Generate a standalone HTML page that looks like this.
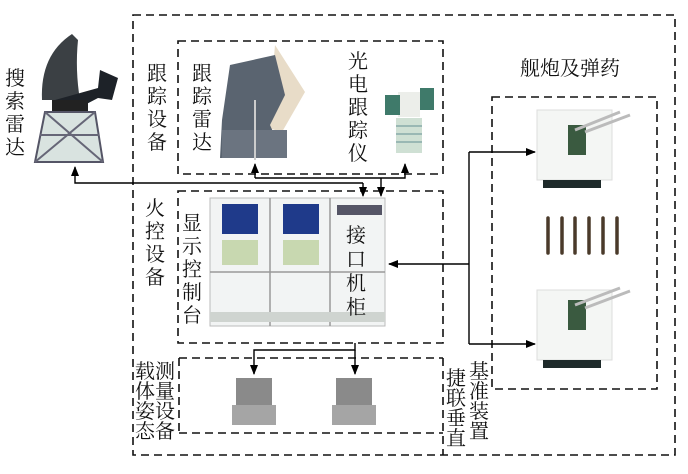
<!DOCTYPE html>
<html><head><meta charset="utf-8"><style>
html,body{margin:0;padding:0;background:#fff}
svg{display:block}
text{font-family:"Liberation Serif","Noto Serif CJK SC",serif;font-size:20px;fill:#111}
</style></head><body>
<svg width="688" height="474" viewBox="0 0 688 474" xmlns="http://www.w3.org/2000/svg">
<defs>
<marker id="a" markerWidth="10" markerHeight="8" refX="9" refY="4" orient="auto" markerUnits="userSpaceOnUse"><path d="M0,0 L10,4 L0,8 Z" fill="#000"/></marker>
</defs>
<g fill="none" stroke="#111" stroke-width="1.6" stroke-dasharray="8,5">
<rect x="133" y="15" width="542" height="440"/>
<rect x="178" y="41" width="265" height="133"/>
<rect x="178" y="191" width="265" height="152"/>
<path d="M179,358 H443 M179,433 H443 M179,358 V433 M443,358 V455"/>
<rect x="492" y="97" width="165" height="292"/>
</g>
<!-- search radar -->
<g>
<path d="M42,100 Q40,55 72,34 L78,40 Q75,70 80,100 Z" fill="#262b30" opacity="0.9"/>
<path d="M55,100 L98,88 L100,70 L118,78 L112,100 L98,98 L75,110 Z" fill="#1d2228"/>
<rect x="52" y="100" width="36" height="12" fill="#222"/>
<path d="M45,112 H95 L103,162 H35 Z" fill="#d9e3e0" stroke="#556" stroke-width="2"/>
<path d="M45,112 L103,162 M95,112 L35,162 M40,135 H99" stroke="#667" stroke-width="2"/>
</g>
<!-- tracking radar -->
<g>
<path d="M275,45 L305,92 L282,132 L268,128 Z" fill="#e8dcc8"/>
<path d="M230,65 L275,55 L285,95 L270,125 L285,158 H220 L222,120 Z" fill="#5a6470"/>
<rect x="222" y="130" width="65" height="28" fill="#6b7480"/>
<line x1="255" y1="100" x2="255" y2="160" stroke="#ccc" stroke-width="2"/>
</g>
<!-- EO tracker -->
<g>
<rect x="398" y="92" width="22" height="25" fill="#eceeea"/>
<rect x="385" y="95" width="15" height="20" fill="#3f7a6a"/>
<rect x="420" y="88" width="14" height="22" fill="#3f7a6a"/>
<rect x="396" y="118" width="26" height="35" fill="#cfe0d4"/>
<path d="M396,126 H422 M396,134 H422 M396,142 H422" stroke="#8aa" stroke-width="1.5"/>
</g>
<!-- console -->
<g>
<rect x="210" y="198" width="175" height="128" fill="#f2f4f4" stroke="#bbb"/>
<rect x="222" y="204" width="36" height="30" fill="#1f3a8a"/>
<rect x="283" y="204" width="36" height="30" fill="#1f3a8a"/>
<rect x="222" y="240" width="36" height="25" fill="#c8d8b0"/>
<rect x="283" y="240" width="36" height="25" fill="#c8d8b0"/>
<rect x="337" y="205" width="45" height="10" fill="#556"/>
<path d="M270,198 V326 M330,198 V326 M210,272 H385" stroke="#999" stroke-width="1.5"/>
<rect x="210" y="312" width="175" height="10" fill="#cfd4d0"/>
</g>
<!-- gyro units -->
<g>
<rect x="236" y="378" width="36" height="30" fill="#8a8a8a"/>
<rect x="232" y="405" width="44" height="20" fill="#a5a5a5"/>
<rect x="336" y="378" width="36" height="30" fill="#8a8a8a"/>
<rect x="332" y="405" width="44" height="20" fill="#a5a5a5"/>
</g>
<!-- guns -->
<g>
<rect x="537" y="110" width="75" height="70" fill="#f4f6f4" stroke="#ddd"/>
<rect x="568" y="125" width="18" height="30" fill="#3a5a40"/>
<path d="M575,130 L620,112 M585,132 L630,115" stroke="#bbb" stroke-width="3"/>
<rect x="543" y="180" width="58" height="8" fill="#1e2a2a"/>
<rect x="537" y="290" width="75" height="70" fill="#f4f6f4" stroke="#ddd"/>
<rect x="568" y="300" width="18" height="30" fill="#3a5a40"/>
<path d="M575,305 L620,288 M585,308 L630,291" stroke="#bbb" stroke-width="3"/>
<rect x="543" y="360" width="58" height="8" fill="#1e2a2a"/>
</g>
<g stroke="#4a3a2a" stroke-width="3.5" stroke-linecap="round">
<path d="M548,218 V253 M562,218 V253 M575,218 V253 M589,218 V253 M603,218 V253 M617,218 V253"/>
</g>
<!-- connectors -->
<g fill="none" stroke="#000" stroke-width="1.4">
<path d="M363,183 H75 V167" marker-end="url(#a)"/>
<path d="M363,183 V196" marker-end="url(#a)"/>
<path d="M255,178 V164" marker-end="url(#a)"/>
<path d="M255,178 H405 V164" marker-end="url(#a)"/>
<path d="M381,178 V196" marker-end="url(#a)"/>
<path d="M469,264 H389" marker-end="url(#a)"/>
<path d="M469,152 V344"/>
<path d="M469,152 H535" marker-end="url(#a)"/>
<path d="M469,344 H535" marker-end="url(#a)"/>
<path d="M355,343 V350 H254 V374" marker-end="url(#a)"/>
<path d="M355,350 V374" marker-end="url(#a)"/>
</g>
<!-- labels -->
<g>
<text x="5" y="85">搜</text><text x="5" y="108">索</text><text x="5" y="131">雷</text><text x="5" y="154">达</text>
<text x="147" y="80">跟</text><text x="147" y="103">踪</text><text x="147" y="126">设</text><text x="147" y="149">备</text>
<text x="192" y="80">跟</text><text x="192" y="103">踪</text><text x="192" y="126">雷</text><text x="192" y="149">达</text>
<text x="348" y="68">光</text><text x="348" y="91">电</text><text x="348" y="114">跟</text><text x="348" y="137">踪</text><text x="348" y="160">仪</text>
<text x="145" y="215">火</text><text x="145" y="238">控</text><text x="145" y="261">设</text><text x="145" y="284">备</text>
<text x="182" y="230">显</text><text x="182" y="253">示</text><text x="182" y="276">控</text><text x="182" y="299">制</text><text x="182" y="322">台</text>
<text x="346" y="242">接</text><text x="346" y="266">口</text><text x="346" y="290">机</text><text x="346" y="314">柜</text>
<text x="135" y="378">载</text><text x="135" y="398">体</text><text x="135" y="418">姿</text><text x="135" y="438">态</text>
<text x="155" y="378">测</text><text x="155" y="398">量</text><text x="155" y="418">设</text><text x="155" y="438">备</text>
<text x="446" y="385">捷</text><text x="446" y="405">联</text><text x="446" y="425">垂</text><text x="446" y="445">直</text>
<text x="469" y="378">基</text><text x="469" y="398">准</text><text x="469" y="418">装</text><text x="469" y="438">置</text>
<text x="520" y="75">舰炮及弹药</text>
</g>
</svg>
</body></html>
